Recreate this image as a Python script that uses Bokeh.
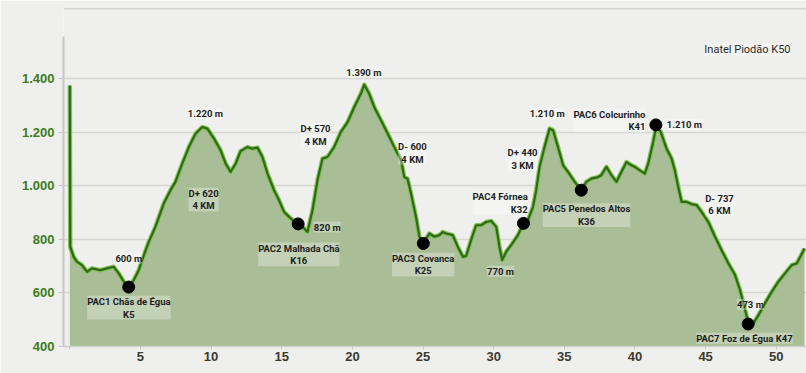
from bokeh.plotting import figure
from bokeh.models import FixedTicker, ColumnDataSource
from bokeh.core.properties import value
from bokeh.embed import file_html
from bokeh.resources import INLINE

# ---- data (km, elevation in m) ----
km = [0.0, 0.03, 0.27, 0.51, 0.86, 1.22, 1.57, 2.16, 2.64, 3.1, 3.46, 3.82, 4.17, 4.53, 4.88,
      5.12, 5.59, 6.06, 6.65, 7.13, 7.48, 7.96, 8.43, 8.9, 9.38, 9.73, 10.2, 10.67, 11.03, 11.38,
      11.74, 12.09, 12.57, 12.92, 13.28, 13.63, 13.99, 14.45, 14.81, 15.16, 15.64, 16.16, 16.47,
      16.82, 17.18, 17.53, 17.89, 18.24, 18.71, 19.18, 19.66, 20.13, 20.6, 20.84, 21.19, 21.55,
      22.02, 22.5, 22.96, 23.44, 23.67, 23.9, 24.15, 24.5, 24.74, 25.02, 25.45, 25.8, 26.16, 26.4,
      26.63, 27.1, 27.46, 27.82, 28.05, 28.4, 28.76, 29.11, 29.47, 29.82, 30.18, 30.41, 30.6,
      30.89, 31.24, 31.72, 32.11, 32.43, 32.78, 33.01, 33.25, 33.6, 33.96, 34.2, 34.55, 34.91,
      35.26, 35.73, 36.2, 36.56, 36.92, 37.39, 37.62, 37.98, 38.33, 38.69, 39.04, 39.4, 39.75,
      39.99, 40.34, 40.7, 40.94, 41.29, 41.52, 41.83, 42.23, 42.59, 42.82, 43.06, 43.3, 43.65,
      44.0, 44.36, 44.71, 45.19, 45.66, 46.13, 46.61, 47.08, 47.43, 47.74, 48.03, 48.38, 48.74,
      49.2, 49.68, 50.15, 50.62, 51.1, 51.45, 51.76, 52.0]
elev = [1375, 772, 735, 716, 704, 679, 692, 685, 692, 698, 673, 642, 622, 648, 685,
        723, 791, 847, 934, 984, 1015, 1083, 1145, 1195, 1220, 1214, 1177, 1133, 1083, 1052,
        1083, 1130, 1145, 1139, 1143, 1108, 1046, 984, 946, 903, 878, 858, 847,
        828, 909, 1021, 1102, 1108, 1145, 1201, 1238, 1294, 1344, 1378, 1344, 1294,
        1245, 1195, 1145, 1096, 1033, 1027, 971, 884, 810, 785, 822, 810, 816, 828,
        822, 816, 772, 735, 738, 797, 853, 853, 865, 869, 847, 772, 723,
        754, 779, 816, 860, 872, 921, 984, 1071, 1145, 1214, 1208, 1145, 1077,
        1052, 1015, 984, 1015, 1027, 1033, 1040, 1071, 1040, 1015, 1052, 1089, 1077,
        1071, 1058, 1046, 1083, 1164, 1226, 1201, 1139, 1102, 1058, 996, 940, 940,
        932, 928, 903, 865, 810, 760, 710, 667, 611, 548, 486, 486, 517,
        561, 604, 642, 673, 704, 710, 741, 766]

pac_km = [4.17, 16.16, 25.02, 32.11, 36.2, 41.48, 48.01]
pac_elev = [622, 858, 785, 860, 984, 1228, 484]

x_ticks = [0, 5, 10, 15, 20, 25, 30, 35, 40, 45, 50]
y_ticks = [400, 600, 800, 1000, 1200, 1400]
y_tick_labels = ["400", "600", "800", "1.000", "1.200", "1.400"]

# annotation texts anchored at data coordinates
center_texts = ["1.220 m", "D+ 620\n4 KM", "600 m", "PAC1 Chãs de Égua\nK5",
                "PAC2 Malhada Chã\nK16", "D+ 570\n4 KM", "1.390 m", "D- 600\n4 KM",
                "PAC3 Covanca\nK25", "770 m", "D+ 440\n3 KM", "1.210 m",
                "PAC5 Penedos Altos\nK36", "1.210 m", "D- 737\n6 KM", "473 m",
                "PAC7 Foz de Égua K47"]
center_x = [9.60, 9.47, 4.18, 4.18, 16.21, 17.39, 20.81, 24.25, 25.01, 30.48, 32.04, 33.79,
            36.57, 43.50, 45.98, 48.17, 47.75]
center_y = [1270, 949, 730, 545, 744, 1189, 1424, 1123, 706, 681, 1100, 1269,
            891, 1229, 930, 557, 431]
right_texts = ["PAC4 Fórnea\nK32", "PAC6 Colcurinho\nK41"]
right_x = [32.41, 40.74]
right_y = [935, 1245]
left_texts = ["820 m"]
left_x = [17.27]
left_y = [846]
title_text = "Inatel Piodão K50"

BG = "#efefed"
p = figure(width=806, height=373, x_range=(-0.446, 52.14), y_range=(400, 1674),
           output_backend="svg", toolbar_location=None,
           min_border_left=63, min_border_right=0, min_border_top=5, min_border_bottom=27,
           background_fill_color=BG, border_fill_color=BG, outline_line_color=None)

# grid
p.xgrid.visible = False
p.ygrid.ticker = FixedTicker(ticks=[600, 800, 1000, 1200, 1400])
p.ygrid.grid_line_color = "#d6d6d3"
p.ygrid.grid_line_width = 1.5

# top rule
p.line([-0.446, 52.14], [1662, 1662], line_color="#d3d3d1", line_width=1.5)

# area + line
src = ColumnDataSource(dict(km=km, elev=elev, base=[400] * len(km)))
p.varea(x="km", y1="base", y2="elev", source=src, fill_color="#a9bd97")
p.line(x="km", y="elev", source=src, line_color="#86c25a", line_width=4.5, line_join="round")
p.line(x="km", y="elev", source=src, line_color="#2e6a16", line_width=2.2, line_join="round")

p.scatter(pac_km, pac_elev, size=12, color="black")

LBL_FONT = value("Roboto")
common = dict(text_font=LBL_FONT, text_font_size="9.5px", text_font_style="bold",
              text_color="#1e1e1e", text_baseline="middle", text_line_height=1.15,
              background_fill_color="white", background_fill_alpha=0.3)
p.text(center_x, center_y, text=center_texts, text_align="center", **common)
p.text(right_x, right_y, text=right_texts, text_align="right", **common)
p.text(left_x, left_y, text=left_texts, text_align="left", **common)
p.text([47.96], [1509], text=[title_text], text_align="center", text_baseline="middle",
       text_font=value("Roboto"), text_font_size="11px",
       text_color="#2a2a2a", background_fill_color="white", background_fill_alpha=0.3)

# axes
p.yaxis.ticker = FixedTicker(ticks=y_ticks)
p.yaxis.major_label_overrides = dict(zip(y_ticks, y_tick_labels))
p.yaxis.bounds = (400, 1560)
p.yaxis.axis_line_color = "#c6c6c4"
p.yaxis.axis_line_width = 2
p.yaxis.major_tick_line_color = "#c6c6c4"
p.yaxis.major_tick_out = 5
p.yaxis.major_tick_in = 0
p.yaxis.minor_tick_line_color = None
p.yaxis.major_label_standoff = 4
p.yaxis.major_label_text_font = "Liberation Sans"
p.yaxis.major_label_text_font_style = "bold"
p.yaxis.major_label_text_font_size = "13px"
p.yaxis.major_label_text_color = "#3d7b1c"

p.xaxis.ticker = FixedTicker(ticks=x_ticks)
p.xaxis.major_label_overrides = {0: ""}
p.xaxis.axis_line_color = "#cfcfcc"
p.xaxis.axis_line_width = 1.5
p.xaxis.major_tick_line_color = "#c6c6c4"
p.xaxis.major_tick_out = 3
p.xaxis.major_tick_in = 0
p.xaxis.minor_tick_line_color = None
p.xaxis.major_label_standoff = 2
p.xaxis.major_label_text_font = "Liberation Sans"
p.xaxis.major_label_text_font_style = "bold"
p.xaxis.major_label_text_font_size = "13px"
p.xaxis.major_label_text_color = "#3a3a30"

open("out.html", "w").write(file_html(p, INLINE))
